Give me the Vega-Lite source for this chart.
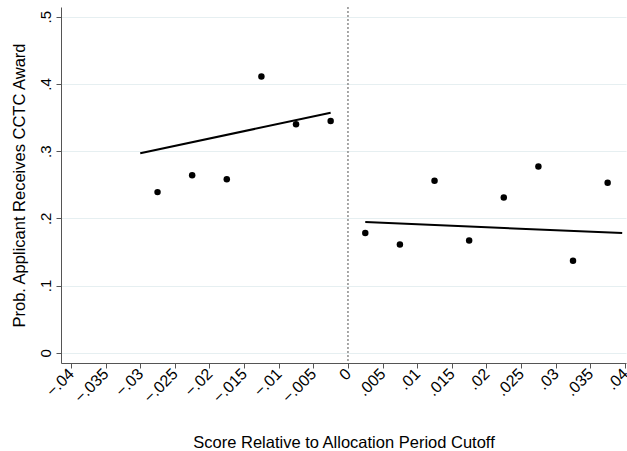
{
  "$schema": "https://vega.github.io/schema/vega-lite/v6.json",
  "width": 565,
  "height": 356,
  "autosize": "none",
  "padding": {"left": 61, "top": 7, "right": 1, "bottom": 88},
  "background": "white",
  "config": {
    "view": {"stroke": null},
    "font": "Liberation Sans",
    "axis": {
      "domainColor": "#555555",
      "tickColor": "#555555",
      "labelColor": "black",
      "titleColor": "black",
      "labelFont": "Liberation Sans",
      "titleFont": "Liberation Sans",
      "labelFontSize": 15,
      "titleFontSize": 16.5,
      "titleFontWeight": "normal",
      "tickSize": 5
    }
  },
  "datasets": {
    "bins": [
      {"x": -0.0275, "y": 0.239},
      {"x": -0.0225, "y": 0.264},
      {"x": -0.0175, "y": 0.258},
      {"x": -0.0125, "y": 0.411},
      {"x": -0.0075, "y": 0.340},
      {"x": -0.0025, "y": 0.345},
      {"x": 0.0025, "y": 0.178},
      {"x": 0.0075, "y": 0.161},
      {"x": 0.0125, "y": 0.256},
      {"x": 0.0175, "y": 0.167},
      {"x": 0.0225, "y": 0.231},
      {"x": 0.0275, "y": 0.277},
      {"x": 0.0325, "y": 0.137},
      {"x": 0.0375, "y": 0.253}
    ],
    "fits": [
      {"side": "left", "x": -0.030, "y": 0.297},
      {"side": "left", "x": -0.0025, "y": 0.357},
      {"side": "right", "x": 0.0025, "y": 0.1945},
      {"side": "right", "x": 0.0396, "y": 0.178}
    ]
  },
  "encoding": {
    "x": {
      "field": "x", "type": "quantitative",
      "scale": {"domain": [-0.04144, 0.04015], "nice": false, "zero": false},
      "axis": {
        "values": [-0.04, -0.035, -0.03, -0.025, -0.02, -0.015, -0.01, -0.005, 0, 0.005, 0.01, 0.015, 0.02, 0.025, 0.03, 0.035, 0.04],
        "labelExpr": "datum.value == 0 ? '0' : replace(format(datum.value, '.3~f'), '0.', '.')",
        "labelAngle": -45,
        "labelAlign": "right",
        "labelBaseline": "middle",
        "labelPadding": 3,
        "labelFontSize": 16,
        "labelFlush": false,
        "labelOverlap": false,
        "grid": false,
        "title": "Score Relative to Allocation Period Cutoff",
        "titlePadding": 29
      }
    }
  },
  "layer": [
    {
      "data": {"values": [{"x": 0}]},
      "mark": {"type": "rule", "color": "#8c8c8c", "strokeWidth": 1.5, "strokeDash": [2, 2]}
    },
    {
      "data": {"name": "fits"},
      "mark": {"type": "line", "color": "black", "strokeWidth": 2},
      "encoding": {
        "y": {"field": "y", "type": "quantitative"},
        "detail": {"field": "side"}
      }
    },
    {
      "data": {"name": "bins"},
      "mark": {"type": "point", "filled": true, "color": "black", "opacity": 1, "size": 42},
      "encoding": {
        "y": {
          "field": "y", "type": "quantitative",
          "scale": {"domain": [-0.0153, 0.5145], "nice": false, "zero": false},
          "axis": {
            "values": [0, 0.1, 0.2, 0.3, 0.4, 0.5],
            "labelExpr": "datum.value == 0 ? '0' : replace(format(datum.value, '.1f'), '0.', '.')",
            "labelAngle": -90,
            "labelAlign": "center",
            "labelBaseline": "bottom",
            "labelPadding": 3,
            "labelFlush": false,
            "labelOverlap": false,
            "grid": true,
            "gridColor": "#e6eff1",
            "gridWidth": 1.2,
            "title": "Prob. Applicant Receives CCTC Award",
            "titlePadding": 11
          }
        }
      }
    },
    {
      "data": {"values": [{"label": "RD =\u00a0\u00a00.16***"}]},
      "mark": {"type": "text", "align": "right", "baseline": "middle", "fontSize": 15.5, "font": "Liberation Sans", "color": "black"},
      "encoding": {
        "x": {"datum": 0.0325, "type": "quantitative"},
        "y": {"datum": 0.4137, "type": "quantitative"},
        "text": {"field": "label"}
      }
    },
    {
      "data": {"values": [{"label": "(\u00a00.04)"}]},
      "mark": {"type": "text", "align": "right", "baseline": "middle", "fontSize": 15.5, "font": "Liberation Sans", "color": "black"},
      "encoding": {
        "x": {"datum": 0.0325, "type": "quantitative"},
        "y": {"datum": 0.387, "type": "quantitative"},
        "text": {"field": "label"}
      }
    }
  ]
}
